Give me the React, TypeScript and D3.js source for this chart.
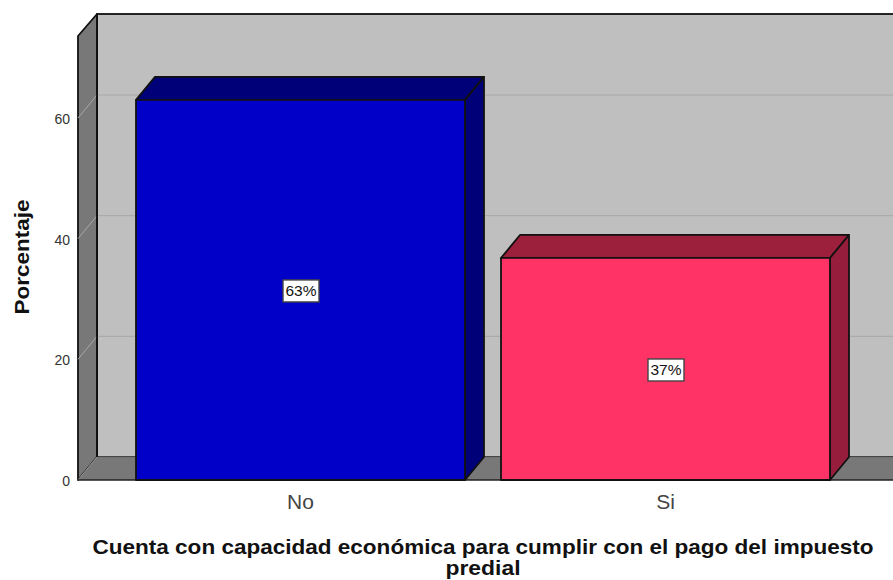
import React from "react";
import * as d3 from "d3";

const categories = ["No", "Si"];
const percentages = [63, 36.8];
const barLabels = ["63%", "37%"];
const yTicks = [0, 20, 40, 60];
const frontColors = ["#0000c8", "#ff3366"];
const topColors = ["#000078", "#9c203c"];
const sideColors = ["#000078", "#961e3c"];
const yTitle = "Porcentaje";
const xTitleLines = ["Cuenta con capacidad económica para cumplir con el pago del impuesto", "predial"];

const W = 893, H = 580;
const dx = 19, dy = -23;
const left = 78, floorY = 480, wallTop = 14;
const rightEdge = 893;

const y = d3.scaleLinear().domain([0, 60]).range([480, 118]);
const x = d3.scaleBand<string>().domain(categories).range([118, 848]).paddingInner(36 / 365).paddingOuter(18 / 365);
const font = "'Liberation Sans', Arial, sans-serif";
const pts = (a: number[][]) => a.map((p) => p.join(",")).join(" ");

export default function App() {
  return (
    <svg width={W} height={H} viewBox={`0 0 ${W} ${H}`} style={{ position: "absolute", left: 0, top: 0, background: "#fff" }} fontFamily={font}>
      {/* back wall */}
      <rect x={left + dx} y={wallTop} width={rightEdge - left - dx + 2} height={floorY + dy - wallTop} fill="#bfbfbf" stroke="#111" strokeWidth={1.8} />
      {/* left wall */}
      <polygon points={pts([[left, floorY], [left + dx, floorY + dy], [left + dx, wallTop], [left, wallTop - dy - 1]])} fill="#787878" stroke="#111" strokeWidth={1.8} strokeLinejoin="round" />
      {/* floor */}
      <polygon points={pts([[left, floorY], [left + dx, floorY + dy], [rightEdge + 2, floorY + dy], [rightEdge + 2, floorY]])} fill="#787878" />
      <line x1={left + dx} x2={rightEdge} y1={floorY + dy} y2={floorY + dy} stroke="#6a6a6a" strokeWidth={1} />
      <line x1={left} x2={left + dx} y1={floorY} y2={floorY + dy} stroke="#9a9a9a" strokeWidth={1} />
      <line x1={left} x2={rightEdge} y1={floorY} y2={floorY} stroke="#222" strokeWidth={1.5} />
      {/* gridlines */}
      {yTicks.filter((t) => t > 0).map((t) => (
        <polyline key={t} points={pts([[left, y(t)], [left + dx, y(t) + dy], [rightEdge, y(t) + dy]])} stroke="#a8a8a8" strokeWidth={1} fill="none" />
      ))}
      <line x1={left + dx} x2={left + dx} y1={wallTop} y2={floorY + dy} stroke="#111" strokeWidth={1.8} />
      {/* y ticks */}
      {yTicks.map((t) => (
        <text key={t} x={70} y={y(t) + 6} fontSize={14} textAnchor="end" fill="#333">{t}</text>
      ))}
      {/* bars */}
      {categories.map((c, i) => {
        const x0 = x(c)!, x1 = x0 + x.bandwidth(), top = y(percentages[i]);
        return (
          <g key={c} stroke="#111" strokeWidth={1.8} strokeLinejoin="round">
            <polygon points={pts([[x0, top], [x0 + dx, top + dy], [x1 + dx, top + dy], [x1, top]])} fill={topColors[i]} />
            <polygon points={pts([[x1, top], [x1 + dx, top + dy], [x1 + dx, floorY + dy], [x1, floorY]])} fill={sideColors[i]} />
            <rect x={x0} y={top} width={x.bandwidth()} height={floorY - top} fill={frontColors[i]} />
          </g>
        );
      })}
      {/* value labels */}
      {categories.map((c, i) => {
        const cx = x(c)! + x.bandwidth() / 2;
        const cy = (y(percentages[i]) + floorY) / 2;
        return (
          <g key={c}>
            <rect x={cx - 17.5} y={cy - 10} width={36} height={22} fill="#fff" stroke="#444" strokeWidth={1.4} />
            <text x={cx + 0.5} y={cy + 6} fontSize={14.5} textAnchor="middle" fill="#111" textLength={31} lengthAdjust="spacingAndGlyphs">{barLabels[i]}</text>
          </g>
        );
      })}
      {/* category labels */}
      {categories.map((c) => (
        <text key={c} x={x(c)! + x.bandwidth() / 2} y={509} fontSize={21} textAnchor="middle" fill="#444">{c}</text>
      ))}
      {/* axis titles */}
      <text transform="translate(29,257) rotate(-90)" fontSize={20.5} fontWeight="bold" textAnchor="middle" fill="#111" textLength={115} lengthAdjust="spacingAndGlyphs">{yTitle}</text>
      {xTitleLines.map((l, i) => (
        <text key={i} x={483} y={554 + i * 21} fontSize={20.5} fontWeight="bold" textAnchor="middle" fill="#111" textLength={i === 0 ? 781 : 75} lengthAdjust="spacingAndGlyphs">{l}</text>
      ))}
    </svg>
  );
}
